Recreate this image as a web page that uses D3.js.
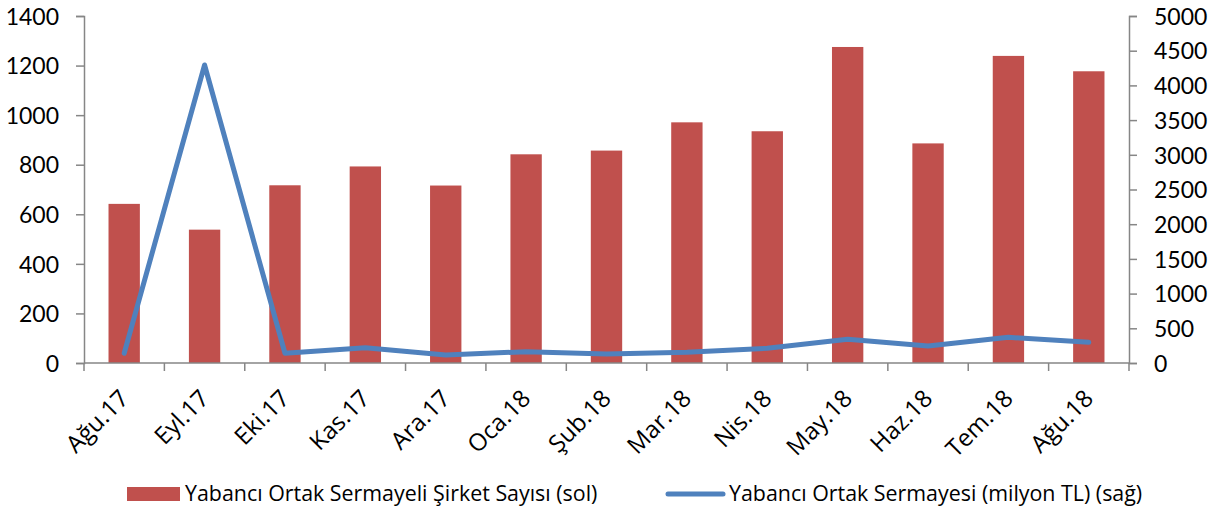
<!DOCTYPE html>
<html>
<head>
<meta charset="utf-8">
<script src="https://cdn.jsdelivr.net/npm/d3@7"></script>
<style>
  body { margin: 0; background: #fff; }
  svg text { font-family: "Open Sans", sans-serif; fill: #000; }
  svg .yaxis text { font-family: Lato, "Open Sans", sans-serif; }
</style>
</head>
<body>
<svg id="chart"></svg>
<script>
var months = ["Ağu.17","Eyl.17","Eki.17","Kas.17","Ara.17","Oca.18","Şub.18","Mar.18","Nis.18","May.18","Haz.18","Tem.18","Ağu.18"]
var companies = [642, 538, 717, 793, 716, 842, 857, 971, 935, 1275, 886, 1239, 1177]
var capital = [140, 4294, 140, 220, 115, 163, 130, 154, 212, 341, 245, 370, 298]
var leftTicks = [0, 200, 400, 600, 800, 1000, 1200, 1400]
var rightTicks = [0, 500, 1000, 1500, 2000, 2500, 3000, 3500, 4000, 4500, 5000]
var barName = "Yabancı Ortak Sermayeli Şirket Sayısı (sol)"
var lineName = "Yabancı Ortak Sermayesi (milyon TL) (sağ)"

var dimensions = {
    width: 1220,
    height: 512,
    margin: { top: 16, bottom: 149, right: 91, left: 84 }
}

var svg = d3.select("#chart")
            .attr("width", dimensions.width)
            .attr("height", dimensions.height)

var plotBottom = dimensions.height - dimensions.margin.bottom
var plotRight = dimensions.width - dimensions.margin.right

var xScale = d3.scaleBand()
               .domain(months)
               .range([dimensions.margin.left, plotRight])

var yLeft = d3.scaleLinear()
              .domain([0, 1400])
              .range([plotBottom, dimensions.margin.top])

var yRight = d3.scaleLinear()
               .domain([0, 5000])
               .range([plotBottom, dimensions.margin.top])

var axisColor = "#868686"

// bars
var barFrac = 0.39
svg.append("g")
   .selectAll("rect")
   .data(companies)
   .enter()
   .append("rect")
   .attr("x", (d, i) => xScale(months[i]) + xScale.bandwidth() * (1 - barFrac) / 2)
   .attr("width", xScale.bandwidth() * barFrac)
   .attr("y", d => yLeft(d))
   .attr("height", d => plotBottom - yLeft(d))
   .attr("fill", "#C0504D")

// left axis
var leftAxis = svg.append("g")
   .attr("class", "yaxis")
   .attr("transform", `translate(${dimensions.margin.left},0)`)
   .call(d3.axisLeft(yLeft).tickValues(leftTicks).tickSize(8).tickPadding(17).tickFormat(d3.format("d")))
leftAxis.select(".domain").attr("stroke", axisColor).attr("stroke-width", 1.5)
leftAxis.selectAll(".tick line").attr("stroke", axisColor).attr("stroke-width", 1.5)
leftAxis.selectAll(".tick text").attr("dy", "0.36em").style("font-size", "23px")

// right axis
var rightAxis = svg.append("g")
   .attr("class", "yaxis")
   .attr("transform", `translate(${plotRight},0)`)
   .call(d3.axisRight(yRight).tickValues(rightTicks).tickSize(8).tickPadding(17).tickFormat(d3.format("d")))
rightAxis.select(".domain").attr("stroke", axisColor).attr("stroke-width", 1.5)
rightAxis.selectAll(".tick line").attr("stroke", axisColor).attr("stroke-width", 1.5)
rightAxis.selectAll(".tick text").attr("dy", "0.36em").style("font-size", "23px")

// x axis: ticks between categories
var bounds = months.map(m => xScale(m)).concat([plotRight])
var xAxis = svg.append("g")
svg.append("line")
   .attr("x1", dimensions.margin.left).attr("x2", plotRight)
   .attr("y1", plotBottom).attr("y2", plotBottom)
   .attr("stroke", axisColor).attr("stroke-width", 1.5)
xAxis.selectAll("line")
   .data(bounds)
   .enter()
   .append("line")
   .attr("x1", d => d).attr("x2", d => d)
   .attr("y1", plotBottom).attr("y2", plotBottom + 8)
   .attr("stroke", axisColor).attr("stroke-width", 1.5)

xAxis.selectAll("text")
   .data(months)
   .enter()
   .append("text")
   .attr("transform", d => `translate(${xScale(d) + xScale.bandwidth() / 2},${plotBottom + 31}) rotate(-45)`)
   .attr("text-anchor", "end")
   .attr("dy", "0.35em")
   .style("font-size", "24px")
   .text(d => d)

// line
var line = d3.line()
             .x((d, i) => xScale(months[i]) + xScale.bandwidth() / 2)
             .y(d => yRight(d))

svg.append("path")
   .datum(capital)
   .attr("d", line)
   .attr("fill", "none")
   .attr("stroke", "#4F81BD")
   .attr("stroke-width", 5)
   .attr("stroke-linejoin", "round")
   .attr("stroke-linecap", "round")

// legend
var legend = svg.append("g")
legend.append("rect")
      .attr("x", 127).attr("y", 487).attr("width", 53).attr("height", 14)
      .attr("fill", "#C0504D")
legend.append("text")
      .attr("x", 185).attr("y", 494).attr("dy", "0.35em")
      .style("font-size", "21.4px")
      .text(barName)
legend.append("line")
      .attr("x1", 668).attr("x2", 723).attr("y1", 494).attr("y2", 494)
      .attr("stroke", "#4F81BD").attr("stroke-width", 5).attr("stroke-linecap", "round")
legend.append("text")
      .attr("x", 729).attr("y", 494).attr("dy", "0.35em")
      .style("font-size", "21.4px")
      .text(lineName)
</script>
</body>
</html>
